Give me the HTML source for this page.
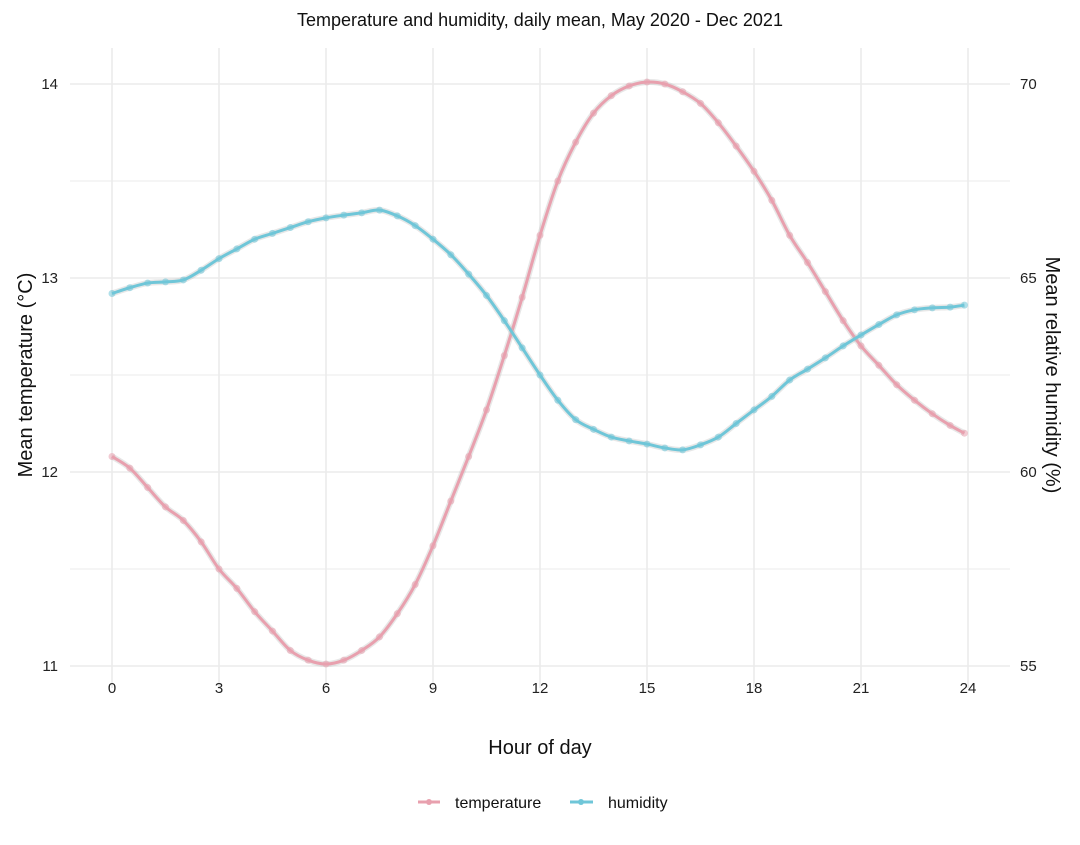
<!DOCTYPE html>
<html><head><meta charset="utf-8"><style>
body{margin:0;background:#fff;}
svg text{font-family:"Liberation Sans",sans-serif;}
</style></head><body>
<svg id="chart" width="1080" height="840" xmlns="http://www.w3.org/2000/svg">
<rect width="1080" height="840" fill="#fff"/>
<g id="grid"></g>
<g id="series"></g>
<g id="axes"></g>
<text x="540" y="26" text-anchor="middle" font-size="18" fill="#111">Temperature and humidity, daily mean, May 2020 - Dec 2021</text>
<text x="540" y="754" text-anchor="middle" font-size="20" fill="#111">Hour of day</text>
<text transform="translate(32,375) rotate(-90)" text-anchor="middle" font-size="20" fill="#111">Mean temperature (°C)</text>
<text transform="translate(1046,375) rotate(90)" text-anchor="middle" font-size="20" fill="#111">Mean relative humidity (%)</text>
<g>
<g>
<line x1="418" y1="802" x2="440" y2="802" stroke="#e8a0ae" stroke-width="3"/><circle cx="429" cy="802" r="3" fill="#e8a0ae"/>
<text x="455" y="808" font-size="16" fill="#111">temperature</text></g>
<g>
<line x1="570" y1="802" x2="593" y2="802" stroke="#6fc6d8" stroke-width="3"/><circle cx="581" cy="802" r="3" fill="#6fc6d8"/>
<text x="608" y="808" font-size="16" fill="#111">humidity</text></g>
</g>
</svg>
<script>
const hours=[0,0.5,1,1.5,2,2.5,3,3.5,4,4.5,5,5.5,6,6.5,7,7.5,8,8.5,9,9.5,10,10.5,11,11.5,12,12.5,13,13.5,14,14.5,15,15.5,16,16.5,17,17.5,18,18.5,19,19.5,20,20.5,21,21.5,22,22.5,23,23.5,23.9];
const temperature=[12.08,12.02,11.92,11.82,11.75,11.64,11.5,11.4,11.28,11.18,11.08,11.03,11.01,11.03,11.08,11.15,11.27,11.42,11.62,11.85,12.08,12.32,12.6,12.9,13.22,13.5,13.7,13.85,13.94,13.99,14.01,14.0,13.96,13.9,13.8,13.68,13.55,13.4,13.22,13.08,12.93,12.78,12.65,12.55,12.45,12.37,12.3,12.24,12.2];
const humidity=[64.6,64.75,64.87,64.9,64.95,65.2,65.5,65.75,66.0,66.15,66.3,66.45,66.55,66.62,66.68,66.75,66.6,66.35,66.0,65.6,65.1,64.55,63.9,63.2,62.5,61.85,61.35,61.1,60.9,60.8,60.72,60.62,60.57,60.7,60.9,61.25,61.6,61.95,62.37,62.65,62.94,63.25,63.53,63.8,64.05,64.18,64.23,64.25,64.3];
const xTicks=[0,3,6,9,12,15,18,21,24];
const yTicksLeft=[11,12,13,14];
const yTicksRight=[55,60,65,70];
const X=h=>112+h*(968-112)/24;
const YL=t=>666-(t-11)*(666-84)/3;
const YR=r=>666-(r-55)*(666-84)/15;
const NS="http://www.w3.org/2000/svg";
function mk(tag,attrs,parent){const e=document.createElementNS(NS,tag);for(const k in attrs)e.setAttribute(k,attrs[k]);parent.appendChild(e);return e;}
const grid=document.getElementById('grid'),axes=document.getElementById('axes'),series=document.getElementById('series');
for(let t=11;t<=14.01;t+=0.5){const y=YL(t);const l=mk('line',{x1:70,x2:1010,y1:y,y2:y,stroke:'#ebebeb','stroke-width':(t%1===0)?1.6:1},grid);

}
xTicks.forEach(h=>{const x=X(h);const l=mk('line',{x1:x,x2:x,y1:48,y2:688,stroke:'#ebebeb','stroke-width':1.6},grid);

});
xTicks.forEach(h=>{const t=mk('text',{x:X(h),y:693,'text-anchor':'middle','font-size':15,fill:'#222'},axes);t.textContent=h;

});
yTicksLeft.forEach(v=>{const t=mk('text',{x:58,y:YL(v)+5,'text-anchor':'end','font-size':15,fill:'#222'},axes);t.textContent=v;

});
yTicksRight.forEach(v=>{const t=mk('text',{x:1020,y:YR(v)+5,'text-anchor':'start','font-size':15,fill:'#222'},axes);t.textContent=v;

});
function smooth(pts){let d='M'+pts[0][0]+','+pts[0][1];for(let i=0;i<pts.length-1;i++){const p0=pts[Math.max(0,i-1)],p1=pts[i],p2=pts[i+1],p3=pts[Math.min(pts.length-1,i+2)];
d+=' C'+(p1[0]+(p2[0]-p0[0])/6)+','+(p1[1]+(p2[1]-p0[1])/6)+' '+(p2[0]-(p3[0]-p1[0])/6)+','+(p2[1]-(p3[1]-p1[1])/6)+' '+p2[0]+','+p2[1];}return d;}
function draw(vals,Y,color,name){const pts=hours.map((h,i)=>[X(h),Y(vals[i])]);
const g=mk('g',{},series);


const band=mk('path',{d:smooth(pts),fill:'none',stroke:'#bbb','stroke-width':6,'stroke-opacity':0.35},g);


pts.forEach(p=>{const c=mk('circle',{cx:p[0],cy:p[1],r:3.5,fill:color,'fill-opacity':0.55},g);

});
const ln=mk('path',{d:smooth(pts),fill:'none',stroke:color,'stroke-width':3},g);

}
draw(temperature,YL,'#e8a0ae','temperature');
draw(humidity,YR,'#6fc6d8','humidity');
</script>
</body></html>
